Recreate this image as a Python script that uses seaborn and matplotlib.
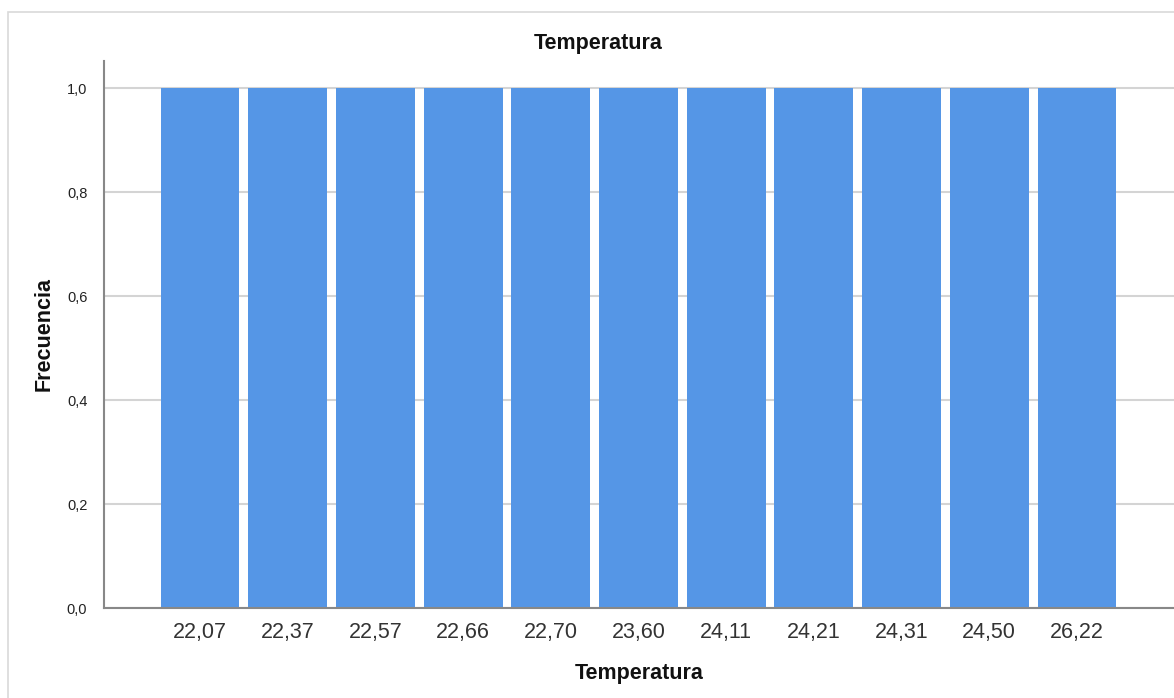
import seaborn as sns
import pandas as pd
import matplotlib.pyplot as plt
from matplotlib.patches import Rectangle

# data
temperaturas = ["22,07", "22,37", "22,57", "22,66", "22,70", "23,60",
                "24,11", "24,21", "24,31", "24,50", "26,22"]
frecuencia = [1, 1, 1, 1, 1, 1, 1, 1, 1, 1, 1]
y_ticks = [0.0, 0.2, 0.4, 0.6, 0.8, 1.0]
y_labels = ["0,0", "0,2", "0,4", "0,6", "0,8", "1,0"]

df = pd.DataFrame({"Temperatura": temperaturas, "Frecuencia": frecuencia})

sns.set_style("white")
plt.rcParams['font.family'] = ['Liberation Sans', 'DejaVu Sans']

W, H = 1174, 698
fig = plt.figure(figsize=(W / 100, H / 100), dpi=100)

# outer frame (right and bottom edges run off the image)
fig.patches.append(Rectangle((8 / W, -0.2), 1.2, 1.2 - 12 / H, transform=fig.transFigure,
                             fill=False, edgecolor="#d9d9d9", linewidth=1.2))

ax = fig.add_axes([104 / W, (H - 608) / H, (W - 104) / W, (608 - 61) / H])
sns.barplot(data=df, x="Temperatura", y="Frecuencia", color="#5596e6",
            saturation=1, width=0.9, edgecolor="none", ax=ax)

ax.set_xlim(-1.095, 10 + 1.106)
ax.set_ylim(0, 1.052)
ax.set_yticks(y_ticks)
ax.set_yticklabels(y_labels, fontsize=10.5, color="#222222")
ax.tick_params(axis="y", direction="in", length=5, color="#999999", width=1, pad=12)
ax.tick_params(axis="x", length=0, labelsize=15.5, labelcolor="#333333", pad=10)

ax.set_axisbelow(True)
ax.yaxis.grid(True, color="#d4d4d4", linewidth=1.5)
for s in ["top", "right"]:
    ax.spines[s].set_visible(False)
for s in ["left", "bottom"]:
    ax.spines[s].set_color("#888888")
    ax.spines[s].set_linewidth(1.5)

ax.set_xlabel("")
ax.set_ylabel("")
fig.text(639 / W, 1 - 673 / H, "Temperatura", ha="center", va="center",
         fontsize=15.5, fontweight="bold", color="#111111")
fig.text(44 / W, 1 - 334 / H, "Frecuencia", ha="center", va="center",
         rotation=90, fontsize=15.5, fontweight="bold", color="#111111")
fig.text(598 / W, 1 - 43 / H, "Temperatura", ha="center", va="center",
         fontsize=15.5, fontweight="bold", color="#111111")

fig.savefig("out.png", dpi=100)
